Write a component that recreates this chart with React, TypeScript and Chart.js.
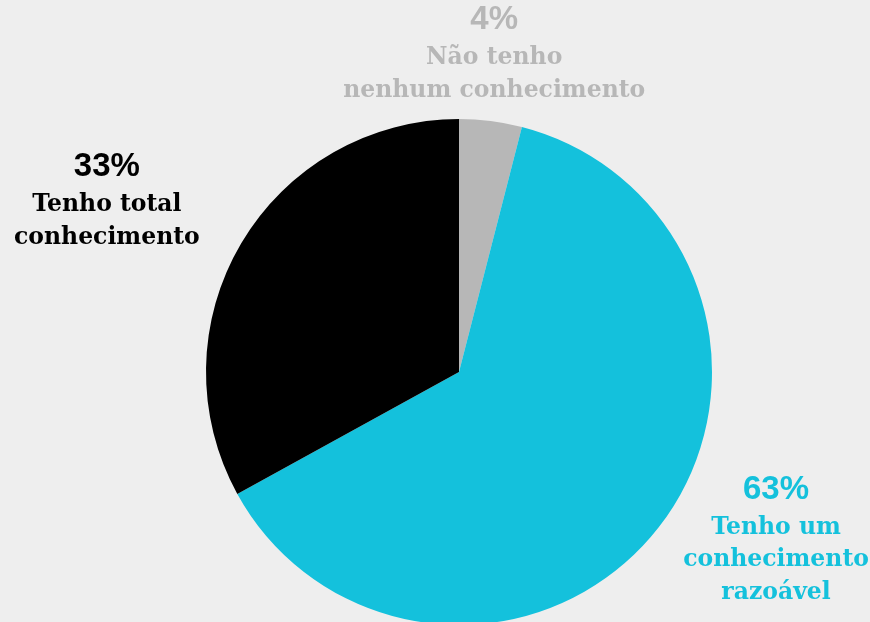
import React, { useEffect, useRef } from "react";
import { Chart, registerables } from "chart.js";

Chart.register(...registerables);

const categories = ["Não tenho nenhum conhecimento", "Tenho um conhecimento razoável", "Tenho total conhecimento"];
const values = [4, 63, 33];
const percentLabels = ["4%", "63%", "33%"];
const labelLines = [["Não tenho", "nenhum conhecimento"], ["Tenho um", "conhecimento", "razoável"], ["Tenho total", "conhecimento"]];
const colors = ["#b7b7b7", "#14c1dc", "#000000"];

// label placement (style): radial distance factor and angle tweak (radians)
const labelPlace = [
  { r: 1.26, da: -0.015 },
  { r: 1.42, da: -0.17 },
  { r: 1.545, da: -0.085 },
];

const labelPlugin = {
  id: "sliceLabels",
  afterDatasetsDraw(chart: any) {
    const ctx = chart.ctx;
    const meta = chart.getDatasetMeta(0);
    meta.data.forEach((arc: any, i: number) => {
      const p = arc.getProps(["x", "y", "startAngle", "endAngle", "outerRadius"], true);
      const mid = (p.startAngle + p.endAngle) / 2 + labelPlace[i].da;
      const R = p.outerRadius * labelPlace[i].r;
      const cx = p.x + Math.cos(mid) * R;
      const cy = p.y + Math.sin(mid) * R;
      const lines = labelLines[i];
      const pctGap = 38;
      const lineGap = 32.5;
      const total = pctGap + lineGap * (lines.length - 1);
      let y = cy - total / 2;
      ctx.save();
      ctx.fillStyle = colors[i];
      ctx.textAlign = "center";
      ctx.textBaseline = "middle";
      ctx.font = "bold 33px 'Liberation Sans', Arial, sans-serif";
      ctx.fillText(percentLabels[i], cx, y);
      y += pctGap;
      ctx.font = "bold 23.5px 'DejaVu Serif', serif";
      lines.forEach((l) => {
        ctx.fillText(l, cx, y);
        y += lineGap;
      });
      ctx.restore();
    });
  },
};

export default function App() {
  const ref = useRef<HTMLCanvasElement>(null);
  useEffect(() => {
    document.body.style.margin = "0";
    document.body.style.background = "#eeeeee";
    const chart = new Chart(ref.current!, {
      type: "pie",
      data: {
        labels: categories,
        datasets: [{ data: values, backgroundColor: colors, borderWidth: 0 }],
      },
      options: {
        animation: false,
        responsive: false,
        layout: { padding: { top: 119, bottom: 15, left: 206, right: 158 } },
        plugins: { legend: { display: false }, tooltip: { enabled: false } },
      },
      plugins: [labelPlugin],
    });
    return () => chart.destroy();
  }, []);
  return (
    <div style={{ width: 870, height: 622, overflow: "hidden", background: "#eeeeee", position: "relative" }}>
      <canvas ref={ref} width={870} height={640} style={{ display: "block" }} />
    </div>
  );
}
